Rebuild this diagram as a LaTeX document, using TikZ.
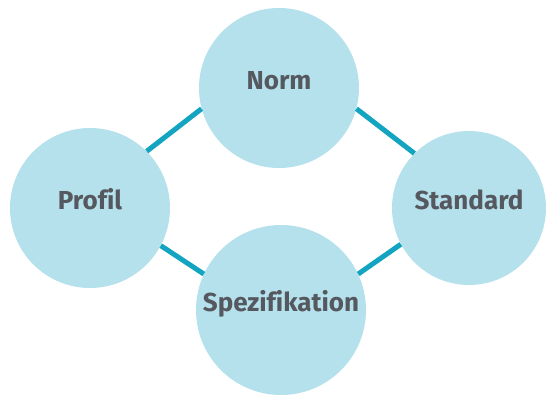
\documentclass[tikz,border=0pt]{standalone}
\usepackage{fontspec}
\setmainfont[Ligatures=NoCommon]{Fira Sans}
\definecolor{discblue}{HTML}{B5E1ED}
\definecolor{linkteal}{HTML}{12A4C0}
\definecolor{txtgray}{HTML}{55585E}

\begin{document}
\begin{tikzpicture}[
            x=1pt, y=1pt, font=\fontsize{26}{30}\selectfont\bfseries,
            disc/.style={circle, fill=discblue, inner sep=0, text=txtgray,
                text height=0.75em, text depth=0.5em},
            link/.style={draw=linkteal, line width=5}
        ]
            \useasboundingbox (0,0) rectangle (546,394);

            % circles
            \node[disc, minimum size=160] (norm)     at (279,306) {Norm};
            \node[disc, minimum size=160] (profil)   at (90,186)  {Profil};
            \node[disc, minimum size=154] (standard) at (469,186) {Standard};
            \node[disc, minimum size=170] (spez)     at (281,84)  {Spezifikation};

            % links
            \draw[link] (profil.45)    -- (norm.195);
            \draw[link] (norm.-15)     -- (standard.135);
            \draw[link] (profil.-28)   -- (spez.155);
            \draw[link] (standard.208) -- (spez.25);

        \end{tikzpicture}
\end{document}
